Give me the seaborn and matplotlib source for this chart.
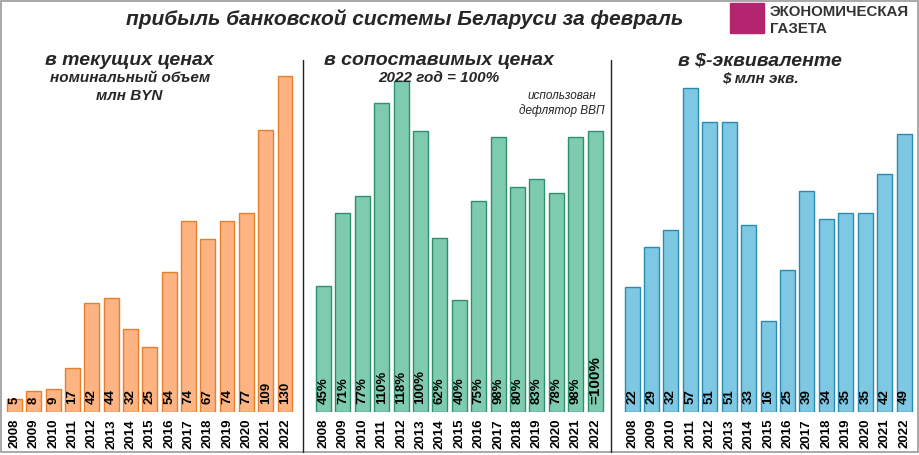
import matplotlib
matplotlib.use("Agg")
import matplotlib.pyplot as plt
import seaborn as sns
import pandas as pd
from matplotlib.patches import Rectangle
from matplotlib.lines import Line2D

years = [str(y) for y in range(2008, 2023)]

# прибыль за февраль
nominal_byn = [5, 8, 9, 17, 42, 44, 32, 25, 54, 74, 67, 74, 77, 109, 130]
real_pct = [45, 71, 77, 110, 118, 100, 62, 40, 75, 98, 80, 83, 78, 98, 100]
real_labels = ["45%", "71%", "77%", "110%", "118%", "100%", "62%", "40%",
               "75%", "98%", "80%", "83%", "78%", "98%", "=100%"]
usd_mln = [22, 29, 32, 57, 51, 51, 33, 16, 25, 39, 34, 35, 35, 42, 49]

sns.set_theme(style="white")
plt.rcParams["font.family"] = ["Liberation Sans", "DejaVu Sans"]

fig = plt.figure(figsize=(9.19, 4.55), dpi=100)

panels = [
    # left, width, values, labels, ymax, fill, edge
    (0.00533, 0.3153, nominal_byn, [str(v) for v in nominal_byn], 136.2, "#FDB382", "#E5802E"),
    (0.3415, 0.3166, real_pct, real_labels, 125.3, "#7FCBAF", "#2E8F6C"),
    (0.6772, 0.3171, usd_mln, [str(v) for v in usd_mln], 62.0, "#7EC8E3", "#2A8BB0"),
]

for left, width, vals, labels, ymax, fill, edge in panels:
    ax = fig.add_axes([left, 0.0945, width, 0.7736])
    df = pd.DataFrame({"year": years, "value": vals})
    sns.barplot(data=df, x="year", y="value", ax=ax, color=fill,
                edgecolor=edge, linewidth=1.0, width=0.77, saturation=1)
    ax.set_ylim(0, ymax)
    ax.set_xlim(-0.5, len(years) - 0.5)
    ax.set_xlabel("")
    ax.set_ylabel("")
    ax.set_yticks([])
    for s in ax.spines.values():
        s.set_visible(False)
    ax.tick_params(axis="x", length=0, pad=5)
    for t in ax.get_xticklabels():
        t.set_rotation(90)
        t.set_fontweight("bold")
        t.set_fontsize(9.5)
        t.set_color("black")
    for i, lab in enumerate(labels):
        fs = 11 if lab.startswith("=") else 9.5
        ax.annotate(lab, xy=(i, 0), xytext=(0, 6), textcoords="offset points",
                    rotation=90, ha="center", va="bottom", fontsize=fs,
                    fontweight="bold", color="black")
    ax.patch.set_alpha(0)

# titles
fig.text(0.44, 0.958, "прибыль банковской системы Беларуси за февраль",
         ha="center", va="center", fontsize=15, fontweight="bold", style="italic")

fig.text(0.141, 0.866, "в текущих ценах", ha="center", va="center",
         fontsize=14, fontweight="bold", style="italic")
fig.text(0.141, 0.828, "номинальный объем", ha="center", va="center",
         fontsize=11, fontweight="bold", style="italic")
fig.text(0.141, 0.788, "млн BYN", ha="center", va="center",
         fontsize=11, fontweight="bold", style="italic")

fig.text(0.478, 0.866, "в сопоставимых ценах", ha="center", va="center",
         fontsize=14, fontweight="bold", style="italic")
fig.text(0.478, 0.828, "2022 год = 100%", ha="center", va="center",
         fontsize=11, fontweight="bold", style="italic")
fig.text(0.611, 0.773, "использован\nдефлятор ВВП", ha="center", va="center",
         fontsize=8.5, style="italic", linespacing=1.25)

fig.text(0.827, 0.866, "в $-эквиваленте", ha="center", va="center",
         fontsize=14, fontweight="bold", style="italic")
fig.text(0.827, 0.828, "$ млн экв.", ha="center", va="center",
         fontsize=11, fontweight="bold", style="italic")

# logo
fig.patches.append(Rectangle((730 / 919, 1 - 33 / 455), 34 / 919, 30 / 455,
                             transform=fig.transFigure, color="#B5246F"))
fig.text(770 / 919, 1 - 12 / 455, "ЭКОНОМИЧЕСКАЯ", ha="left", va="center",
         fontsize=10.8, fontweight="bold", color="#333333")
fig.text(770 / 919, 1 - 29 / 455, "ГАЗЕТА", ha="left", va="center",
         fontsize=10.8, fontweight="bold", color="#333333")

# dividers and frame
for xd in (303, 611):
    fig.lines.append(Line2D([xd / 919, xd / 919], [1 - 452 / 455, 1 - 60 / 455],
                            transform=fig.transFigure, color="#222222", lw=1))
fig.patches.append(Rectangle((0.5 / 919, 1 - 452 / 455), 917 / 919, 451 / 455,
                             transform=fig.transFigure, fill=False,
                             edgecolor="#999999", lw=1.2))

fig.savefig("out.png", dpi=100)
